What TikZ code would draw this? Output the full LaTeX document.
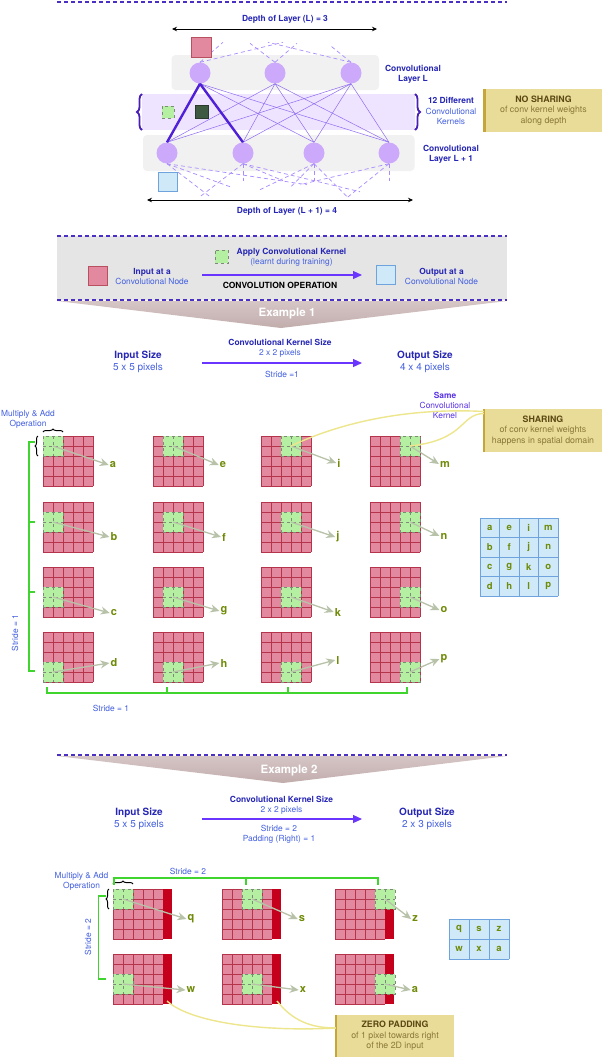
\documentclass[tikz,border=0pt]{standalone}
\usepackage{fontspec}
\setmainfont{TeX Gyre Heros}
\usetikzlibrary{arrows.meta,decorations.pathreplacing}

\definecolor{sepline}{HTML}{4B2FC4}
\definecolor{txtdark}{HTML}{2626B5}
\definecolor{txtlight}{HTML}{4460E0}
\definecolor{txtviolet}{HTML}{5A33E8}
\definecolor{nodefill}{HTML}{CDA9FC}
\definecolor{edgethin}{HTML}{8F6BF2}
\definecolor{edgethick}{HTML}{5020D8}
\definecolor{edgedash}{HTML}{A98BFF}
\definecolor{layerfill}{HTML}{F1F1F1}
\definecolor{bandfill}{HTML}{EEE4FF}
\definecolor{bracecol}{HTML}{4A1FB8}
\definecolor{pixfill}{HTML}{E2899F}
\definecolor{pixline}{HTML}{B5344C}
\definecolor{insqline}{HTML}{B8505F}
\definecolor{padfill}{HTML}{C4001C}
\definecolor{kernfill}{HTML}{B5F0A2}
\definecolor{kernline}{HTML}{7E8A78}
\definecolor{kerndarkfill}{HTML}{3E5A40}
\definecolor{kerndarkline}{HTML}{2A3A2C}
\definecolor{outfill}{HTML}{CFE9F8}
\definecolor{outgrid}{HTML}{6FA3DE}
\definecolor{lettercol}{HTML}{6E8A06}
\definecolor{pointcol}{HTML}{B7C2A9}
\definecolor{notefill}{HTML}{E9DC98}
\definecolor{notebar}{HTML}{C6A63A}
\definecolor{notebold}{HTML}{5B4812}
\definecolor{notetxt}{HTML}{8A7839}
\definecolor{notecurve}{HTML}{EDE68C}
\definecolor{bannerfill}{HTML}{E5E5E5}
\definecolor{funneltop}{HTML}{D6C6C6}
\definecolor{funnelbot}{HTML}{C2ACAC}
\definecolor{stridecol}{HTML}{3FD42E}
\definecolor{opfill}{HTML}{6A35FF}

\tikzset{
  neuron/.style={circle,fill=nodefill,minimum size=21pt,inner sep=0pt},
  thinedge/.style={draw=edgethin,line width=0.5pt},
  thickedge/.style={draw=edgethick,line width=2.4pt},
  stubedge/.style={draw=edgedash,line width=0.7pt,dash pattern=on 4pt off 3pt},
  depthline/.style={draw=black,line width=0.7pt,{Stealth[length=5pt,width=4.5pt]}-{Stealth[length=5pt,width=4.5pt]}},
  kern/.style={draw=kernline,dashed,fill=kernfill,minimum size=20pt,inner sep=0pt,
    path picture={\draw[kernline,dashed,line width=0.6pt] (path picture bounding box.north) -- (path picture bounding box.south) (path picture bounding box.west) -- (path picture bounding box.east);}},
  kernsmall/.style={draw=kernline,dashed,fill=kernfill,minimum size=12pt,inner sep=0pt},
  kerndark/.style={draw=kerndarkline,fill=kerndarkfill,minimum size=13pt,inner sep=0pt},
  insq/.style={draw=insqline,fill=pixfill,minimum size=19pt,inner sep=0pt},
  outsq/.style={draw=outgrid,fill=outfill,minimum size=19pt,inner sep=0pt},
  separator/.style={draw=sepline,line width=1.3pt,dash pattern=on 4pt off 3pt},
  notebox/.style={fill=notefill,minimum width=118pt,minimum height=43pt,inner sep=0pt,text=notetxt,font=\fontsize{8.8}{10.5}\selectfont},
  notelink/.style={draw=notecurve,line width=1.4pt},
  pointer/.style={draw=pointcol,line width=1.3pt,-{Stealth[length=9pt,width=8pt]}},
  letter/.style={font=\fontsize{11}{12}\selectfont\bfseries,text=lettercol,inner sep=1pt},
  cellletter/.style={font=\fontsize{9.5}{11}\selectfont\bfseries,text=lettercol,inner sep=0pt},
  oparrow/.style={draw=opfill,line width=1.2pt,-{Triangle[length=9pt,width=8pt]}},
  strideline/.style={draw=stridecol,line width=1.2pt},
  bracemark/.style={draw=black,line width=1pt,decorate,decoration={brace,amplitude=3pt}},
  bandbrace/.style={draw=bracecol,line width=1.8pt,decorate,decoration={brace,amplitude=5pt}},
  sizelbl/.style={font=\fontsize{10}{12}\selectfont},
  exlbl/.style={font=\fontsize{11.5}{13}\selectfont\bfseries,text=white},
}

\def\pixgrid(#1,#2){%
  \begin{scope}[shift={(#1,#2)}]
    \fill[pixfill] (0,0) rectangle (50,50);
    \foreach \g in {0,10,...,50}{\draw[pixline,line width=0.6pt] (\g,0) -- (\g,50) (0,\g) -- (50,\g);}
  \end{scope}}
\def\padgrid(#1,#2){%
  \begin{scope}[shift={(#1,#2)}]
    \fill[pixfill] (0,0) rectangle (50,50);
    \foreach \g in {0,10,...,50}{\draw[pixline,line width=0.6pt] (\g,0) -- (\g,50) (0,\g) -- (50,\g);}
    \fill[padfill] (50,0) rectangle (59,50);
  \end{scope}}
\def\convstep(#1,#2)(#3,#4)(#5,#6)#7{%
  \pixgrid(#1,#2)
  \node[kern] (k#7) at (#3,#4) {};
  \node[letter] (o#7) at (#5,#6) {#7};
  \draw[pointer] (k#7.center) -- (o#7.west);}
\def\padstep(#1,#2)(#3,#4)(#5,#6)#7{%
  \padgrid(#1,#2)
  \node[kern] (kk#7) at (#3,#4) {};
  \node[letter] (oo#7) at (#5,#6) {#7};
  \draw[pointer] (kk#7.center) -- (oo#7.west);}

\begin{document}
\begin{tikzpicture}[x=1pt,y=-1pt,
  every node/.style={font=\fontsize{8.4}{10}\selectfont,text=txtdark,align=center}]
		%%%%% START %%%%%
		\useasboundingbox (0,0) rectangle (602,1058);
		\fill[white] (0,0) rectangle (602,1058);
		
		\draw[separator] (57,2) -- (507,2);
		
		% depth of layer L
		\coordinate (dLa) at (172,29);
		\coordinate (dLb) at (377,29);
		\draw[depthline] (dLa) -- (dLb);
		\node[font=\fontsize{8.4}{10}\selectfont\bfseries] (dLtxt) at (285,19) {Depth of Layer (L) = 3};
		
		% layers and kernel band
		\fill[layerfill,rounded corners=4pt] (171.5,55) rectangle (379,90);
		\fill[bandfill] (142,94) rectangle (415,130);
		\fill[layerfill,rounded corners=4pt] (143,135) rectangle (414.5,171);
		\draw[bandbrace] (142,130) -- (142,94);
		\draw[bandbrace] (415,94) -- (415,130);
		
		\node[neuron] (l1) at (200,73) {};
		\node[neuron] (l2) at (275,73) {};
		\node[neuron] (l3) at (351,73) {};
		\node[neuron] (m1) at (167,153) {};
		\node[neuron] (m2) at (243,153) {};
		\node[neuron] (m3) at (314,153) {};
		\node[neuron] (m4) at (389,153) {};
		
		\foreach \i in {1,2,3}{\foreach \j in {1,2,3,4}{\draw[thinedge] (l\i.south) -- (m\j.north);}}
		\draw[thickedge] (l1.south) -- (m1.north);
		\draw[thickedge] (l1.south) -- (m2.north);
		
		% links to the layers above and below
		\draw[stubedge] (l1.north) -- ++(23,-20);
		\draw[stubedge] (l1.north) -- ++(83,-20);
		\draw[stubedge] (l2.north) -- ++(-25,-19);
		\draw[stubedge] (l2.north) -- ++(22,-19);
		\draw[stubedge] (l3.north) -- ++(-83,-20);
		\draw[stubedge] (l3.north) -- ++(-21,-17);
		\draw[stubedge] (m1.south) -- ++(43,33);
		\draw[stubedge] (m1.south) -- ++(63,23);
		\draw[stubedge] (m1.south) -- ++(140,21);
		\draw[stubedge] (m2.south) -- ++(-43,33);
		\draw[stubedge] (m2.south) -- ++(0,17);
		\draw[stubedge] (m2.south) -- ++(40,17);
		\draw[stubedge] (m2.south) -- ++(117,28);
		\draw[stubedge] (m3.south) -- ++(-54,26);
		\draw[stubedge] (m3.south) -- ++(-24,24);
		\draw[stubedge] (m3.south) -- ++(0,17);
		\draw[stubedge] (m3.south) -- ++(33,33);
		\draw[stubedge] (m4.south) -- ++(-42,34);
		\draw[stubedge] (m4.south) -- ++(-89,21);
		\draw[stubedge] (m4.south) -- ++(0,17);
		
		\node[insq, minimum size=20pt] (inL) at (201.5,47) {};
		\node[outsq] (outL) at (167.5,181.5) {};
		\node[kernsmall] (kg) at (168,112) {};
		\node[kerndark] (kd) at (202,112) {};
		
		\node[font=\fontsize{8.4}{10}\selectfont\bfseries] (Ltxt) at (413,74) {Convolutional\\Layer L};
		\node[font=\fontsize{8.4}{10.5}\selectfont] (bandtxt) at (451,111) {\textbf{12 Different}\\\textcolor{txtlight}{Convolutional}\\\textcolor{txtlight}{Kernels}};
		\node[font=\fontsize{8.4}{10.5}\selectfont\bfseries] (L1txt) at (451,154.5) {Convolutional\\Layer L + 1};
		
		\node[notebox] (nosh) at (543.5,110.5) {\textcolor{notebold}{\textbf{NO SHARING}}\\of conv kernel weights\\along depth};
		\draw[notebar,line width=2.5pt] (nosh.north west) -- (nosh.south west);
		
		% depth of layer L + 1
		\coordinate (dMa) at (147,200);
		\coordinate (dMb) at (413,200);
		\draw[depthline] (dMa) -- (dMb);
		\node[font=\fontsize{8.4}{10}\selectfont\bfseries] (dMtxt) at (287,211) {Depth of Layer (L + 1) = 4};
		
		% convolution banner
		\fill[bannerfill] (57,236) rectangle (507,300);
		\draw[separator] (57,236) -- (507,236);
		\shade[top color=funneltop,bottom color=funnelbot] (57,301) -- (507,301) -- (281,328) -- cycle;
		\draw[separator] (57,300) -- (507,300);
		\node[exlbl] (ex1) at (287,314) {Example 1};
		
		\node[insq] (inbox) at (98,275.5) {};
		\node (intxt) at (152,277) {\textbf{Input at a}\\\textcolor{txtlight}{Convolutional Node}};
		\node[kernsmall, minimum size=13.5pt] (kbox) at (221.5,256.5) {};
		\node (kbtxt) at (291.5,257.5) {\textbf{Apply Convolutional Kernel}\\\textcolor{txtlight}{(learnt during training)}};
		\coordinate (opa) at (202,275);
		\coordinate (opb) at (362,275);
		\draw[oparrow] (opa) -- (opb);
		\node[text=black,font=\fontsize{8.5}{10}\selectfont\bfseries] (optxt) at (280,285) {CONVOLUTION OPERATION};
		\node[outsq] (outbox) at (385.5,275) {};
		\node (outtxt) at (441.5,276) {\textbf{Output at a}\\\textcolor{txtlight}{Convolutional Node}};
		
		% example 1 sizes
		\node[sizelbl] (insz1) at (138,362) {\textbf{Input Size}\\\textcolor{txtlight}{5 x 5 pixels}};
		\node (ksz1) at (280,348) {\textbf{Convolutional Kernel Size}\\\textcolor{txtlight}{2 x 2 pixels}};
		\coordinate (sz1a) at (202,363);
		\coordinate (sz1b) at (362,363);
		\draw[oparrow] (sz1a) -- (sz1b);
		\node[text=txtlight] (str1) at (282,374) {Stride =1};
		\node[sizelbl] (outsz1) at (425,362) {\textbf{Output Size}\\\textcolor{txtlight}{4 x 4 pixels}};
		
		% example 1 grids
		\convstep(43,436)(53,446)(113,465){a}
		\convstep(153,436)(173,446)(223,465){e}
		\convstep(261,436)(291,446)(339,463){i}
		\convstep(370,436)(410,446)(445,464){m}
		\convstep(43,502)(53,522)(114,537){b}
		\convstep(153,502)(173,522)(224,537){f}
		\convstep(261,502)(291,522)(338,537){j}
		\convstep(370,502)(410,522)(444,536){n}
		\convstep(43,567)(53,597)(114,613){c}
		\convstep(153,567)(173,597)(224,611){g}
		\convstep(261,567)(291,597)(338,612){k}
		\convstep(370,567)(410,597)(444,610){o}
		\convstep(43,632)(53,672)(114,663){d}
		\convstep(153,632)(173,672)(224,663){h}
		\convstep(261,632)(291,672)(338,660){l}
		\convstep(370,632)(410,672)(444,659){p}
		
		\node[text=txtlight] (mul1) at (28,419) {Multiply \& Add\\Operation};
		\draw[bracemark] (43,432) -- (63,432);
		\draw[bracemark] (38,456) -- (38,436);
		
		\draw[strideline] (35,442) -- (29,442) -- (29,671) -- (35,671);
		\draw[strideline] (29,522) -- (35,522);
		\draw[strideline] (29,592) -- (35,592);
		\node[text=txtlight,rotate=90] (sv1) at (15,633) {Stride = 1};
		\draw[strideline] (47,687) -- (47,693) -- (407,693) -- (407,687);
		\draw[strideline] (167,693) -- (167,687);
		\draw[strideline] (288,693) -- (288,687);
		\node[text=txtlight] (sh1) at (111,708) {Stride = 1};
		
		\node[text=txtviolet,font=\fontsize{8.4}{10}\selectfont] (same) at (445,405) {\textbf{Same}\\Convolutional\\Kernel};
		\node[notebox] (share) at (543,430.5) {\textcolor{notebold}{\textbf{SHARING}}\\of conv kernel weights\\happens in spatial domain};
		\draw[notebar,line width=2.5pt] (share.north west) -- (share.south west);
		\draw[notelink] (ki.center) .. controls (350,418) and (420,408) .. ([yshift=19pt]share.west);
		\draw[notelink] ([yshift=17pt]share.west) .. controls (460,414) and (466,440) .. (km.center);
		
		% output of example 1
		\fill[outfill] (480,518) rectangle (558,596);
		\foreach \g in {0,1,2,3,4}{\draw[outgrid,line width=0.8pt] (480+19.5*\g,518) -- (480+19.5*\g,596) (480,518+19.5*\g) -- (558,518+19.5*\g);}
		\foreach \lab [count=\n from 0] in {a,e,i,m,b,f,j,n,c,g,k,o,d,h,l,p}{
			\pgfmathsetmacro\cx{489.75+19.5*mod(\n,4)}
			\pgfmathsetmacro\cy{527.75+19.5*floor(\n/4)}
			\node[cellletter] (c\lab) at (\cx,\cy) {\lab};}
		
		% example 2
		\shade[top color=funneltop,bottom color=funnelbot] (57,756) -- (507,756) -- (283,783) -- cycle;
		\draw[separator] (57,755) -- (507,755);
		\node[exlbl] (ex2) at (289,771) {Example 2};
		
		\node[sizelbl] (insz2) at (139,819) {\textbf{Input Size}\\\textcolor{txtlight}{5 x 5 pixels}};
		\node (ksz2) at (281.5,805) {\textbf{Convolutional Kernel Size}\\\textcolor{txtlight}{2 x 2 pixels}};
		\coordinate (sz2a) at (202,819);
		\coordinate (sz2b) at (362,819);
		\draw[oparrow] (sz2a) -- (sz2b);
		\node[text=txtlight] (str2) at (279,834) {Stride = 2\\Padding (Right) = 1};
		\node[sizelbl] (outsz2) at (427,819) {\textbf{Output Size}\\\textcolor{txtlight}{2 x 3 pixels}};
		
		\padstep(113,889)(123,899)(191,919){q}
		\padstep(222,889)(252,899)(302,919){s}
		\padstep(335,889)(385,899)(415,919){z}
		\padstep(113,954)(123,984)(191,990){w}
		\padstep(222,954)(252,984)(303,990){x}
		\padstep(335,954)(385,984)(415,990){a}
		
		\node[text=txtlight] (mul2) at (81.5,881) {Multiply \& Add\\Operation};
		\draw[bracemark] (113,884) -- (133,884);
		\draw[bracemark] (109,909) -- (109,889);
		
		\draw[strideline] (114,885) -- (114,878) -- (378,878) -- (378,885);
		\draw[strideline] (246,878) -- (246,885);
		\node[text=txtlight] (sh2) at (188,871) {Stride = 2};
		\draw[strideline] (106,896) -- (98.5,896) -- (98.5,979) -- (106,979);
		\node[text=txtlight,rotate=90] (sv2) at (88,937) {Stride = 2};
		
		% output of example 2
		\fill[outfill] (449,919) rectangle (509,959);
		\foreach \g in {0,1,2,3}{\draw[outgrid,line width=0.8pt] (449+20*\g,919) -- (449+20*\g,959);}
		\foreach \g in {0,1,2}{\draw[outgrid,line width=0.8pt] (449,919+20*\g) -- (509,919+20*\g);}
		\foreach \lab [count=\n from 0] in {q,s,z,w,x,a}{
			\pgfmathsetmacro\cx{459+20*mod(\n,3)}
			\pgfmathsetmacro\cy{929+20*floor(\n/3)}
			\node[cellletter] (d\lab) at (\cx,\cy) {\lab};}
		
		\node[notebox, minimum height=42pt] (zpad) at (395,1036) {\textcolor{notebold}{\textbf{ZERO PADDING}}\\of 1 pixel towards right\\of the 2D input};
		\draw[notebar,line width=2.5pt] (zpad.north west) -- (zpad.south west);
		\coordinate (padw) at (167,1001);
		\coordinate (padx) at (277,1001);
		\draw[notelink] (padw) .. controls (190,1022) and (260,1032) .. ([yshift=8pt]zpad.west);
		\draw[notelink] (padx) .. controls (292,1020) and (310,1028) .. ([yshift=8pt]zpad.west);
		
		%%%%% END %%%%%
	\end{tikzpicture}
\end{document}
